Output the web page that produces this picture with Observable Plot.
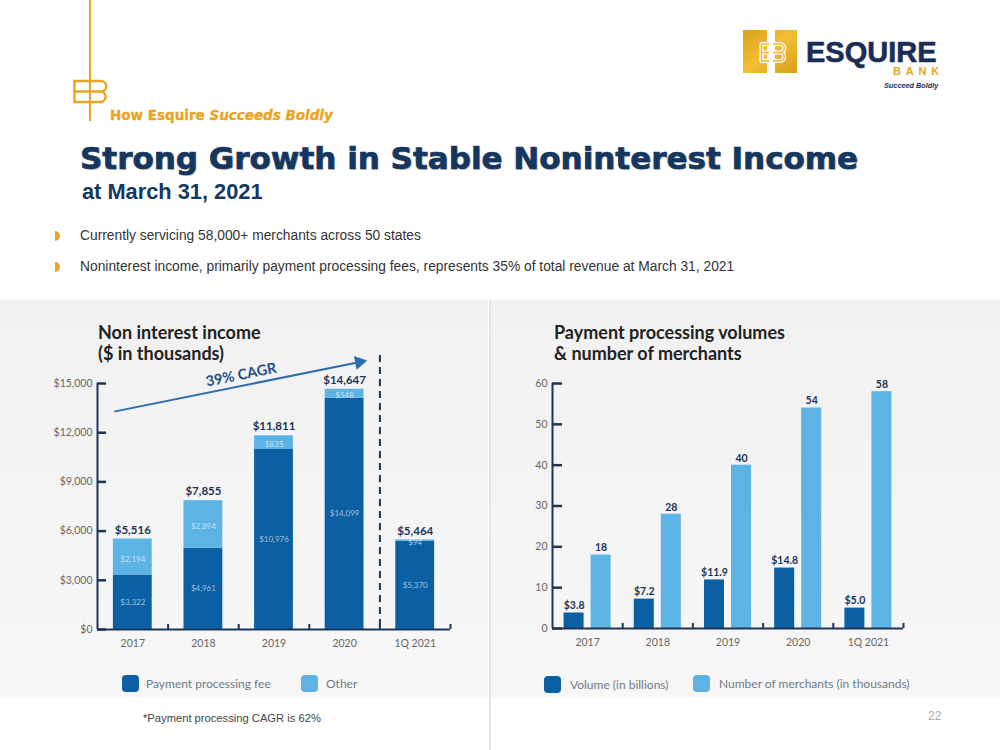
<!DOCTYPE html>
<html>
<head>
<meta charset="utf-8">
<script src="https://cdn.jsdelivr.net/npm/d3@7"></script>
<script src="https://cdn.jsdelivr.net/npm/@observablehq/plot@0.6"></script>
<style>
  html, body { margin: 0; padding: 0; background: #fff; }
  body { width: 1000px; height: 750px; position: relative; overflow: hidden;
         font-family: "Liberation Sans", Arial, sans-serif; }
  .abs { position: absolute; white-space: nowrap; }
  .panel { background: linear-gradient(#f1f1f1, #f7f7f7); }
  .kicker { font-family: "DejaVu Sans", sans-serif; font-weight: bold; font-size: 13.5px;
            line-height: 13.5px; color: #e8a521; -webkit-text-stroke: 0.35px #e8a521; }
  .kicker i { font-style: oblique; }
  .headline { font-family: "DejaVu Sans", sans-serif; font-weight: bold; font-size: 31px;
              line-height: 31px; color: #15375f; -webkit-text-stroke: 0.7px #15375f;
              text-shadow: 1px 1px 1px rgba(0,0,0,0.22); }
  .subhead { font-weight: bold; font-size: 21.8px; line-height: 21.8px; color: #15375f; }
  .bullet-mark { width: 5px; height: 10px; border-radius: 0 5px 5px 0; background: #e8a521; }
  .bullet { font-size: 13.8px; line-height: 14px; color: #333; }
  .chart-title { font-family: Lato, sans-serif; font-weight: bold; font-size: 18px;
                 line-height: 21px; color: #222; }
  .swatch { width: 17px; height: 17px; border-radius: 4px; }
  .legend-text { font-family: Lato, sans-serif; font-size: 12px; line-height: 17px; color: #6d7a88; }
  .foot { font-size: 11.2px; line-height: 12px; color: #444; }
  .page { font-size: 12px; line-height: 12px; color: #aaa; }
</style>
</head>
<body>

<!-- grey chart panels and the divider between them -->
<div class="abs panel" style="left:0;top:300px;width:488px;height:398px"></div>
<div class="abs panel" style="left:491px;top:300px;width:509px;height:398px"></div>
<div class="abs" style="left:488.5px;top:300px;width:2px;height:450px;background:#e4e4e4"></div>

<!-- brand marks -->
<svg class="abs" style="left:0;top:0" width="1000" height="130" viewBox="0 0 1000 130">
  <!-- corner rule with the EB monogram -->
  <line x1="90" y1="0" x2="90" y2="121" stroke="#e8a521" stroke-width="2"/>
  <path d="M90,81 H74.5 V102 H90 M74.5,91.5 H90 M90,81 H101 A5.2,5.2 0 0 1 101,91.5 H90 M101,91.5 A5.3,5.3 0 0 1 101,102 H90"
        fill="none" stroke="#e8a521" stroke-width="2.4"/>
  <!-- logo tile -->
  <defs>
    <linearGradient id="gold" x1="0" y1="0" x2="1" y2="1">
      <stop offset="0" stop-color="#dba11c"/>
      <stop offset="0.5" stop-color="#f1bf36"/>
      <stop offset="1" stop-color="#d99d18"/>
    </linearGradient>
  </defs>
  <rect x="743" y="30" width="54" height="43" fill="url(#gold)"/>
  <g fill="none" stroke-linejoin="round">
    <path d="M769,44 H761.5 V61 H769 M761.5,52.5 H769 M773,44 H780 A4.2,4.2 0 0 1 780,52.5 H773 M780,52.5 A4.2,4.2 0 0 1 780,61 H773 M769,30 V73 M773,30 V73"
          stroke="#ffffff" stroke-width="4"/>
    <path d="M769,44 H761.5 V61 H769 M761.5,52.5 H769 M773,44 H780 A4.2,4.2 0 0 1 780,52.5 H773 M780,52.5 A4.2,4.2 0 0 1 780,61 H773"
          stroke="#eab42c" stroke-width="1.4"/>
  </g>
</svg>
<div class="abs" style="left:806px;top:41px;font-weight:bold;font-size:29px;line-height:22px;color:#1b2d55;-webkit-text-stroke:0.6px #1b2d55">ESQUIRE</div>
<div class="abs" style="left:893px;top:66px;font-weight:bold;font-size:11px;line-height:10px;letter-spacing:4.8px;color:#e3a823">BANK</div>
<div class="abs" style="left:884px;top:81.5px;font-weight:bold;font-style:italic;font-size:7.3px;line-height:7.3px;color:#1b2d55">Succeed Boldly</div>

<!-- heading -->
<div class="abs kicker" style="left:110px;top:108.5px">How Esquire <i>Succeeds Boldly</i></div>
<div class="abs headline" style="left:80px;top:143px">Strong Growth in Stable Noninterest Income</div>
<div class="abs subhead" style="left:82px;top:181.4px">at March 31, 2021</div>

<div class="abs bullet-mark" style="left:55px;top:231px"></div>
<div class="abs bullet" style="left:80px;top:229px">Currently servicing 58,000+ merchants across 50 states</div>
<div class="abs bullet-mark" style="left:55px;top:262px"></div>
<div class="abs bullet" style="left:80px;top:260px">Noninterest income, primarily payment processing fees, represents 35% of total revenue at March 31, 2021</div>

<!-- chart titles -->
<div class="abs chart-title" style="left:98px;top:322px">Non interest income<br>($ in thousands)</div>
<div class="abs chart-title" style="left:554px;top:322px">Payment processing volumes<br>&amp; number of merchants</div>

<div id="income" class="abs" style="left:0;top:340px"></div>
<div id="payments" class="abs" style="left:492px;top:340px"></div>

<!-- legends -->
<div class="abs swatch" style="left:121.5px;top:675px;background:#0b5fa3"></div>
<div class="abs legend-text" style="left:146px;top:675px">Payment processing fee</div>
<div class="abs swatch" style="left:301px;top:675px;background:#5db3e4"></div>
<div class="abs legend-text" style="left:326px;top:675px">Other</div>

<div class="abs swatch" style="left:544px;top:675.5px;background:#0b5fa3"></div>
<div class="abs legend-text" style="left:570px;top:675.5px">Volume (in billions)</div>
<div class="abs swatch" style="left:693px;top:675px;background:#5db3e4"></div>
<div class="abs legend-text" style="left:719px;top:675px">Number of merchants (in thousands)</div>

<div class="abs foot" style="left:143px;top:712px">*Payment processing CAGR is 62%</div>
<div class="abs page" style="left:928px;top:710px">22</div>

<script>
// ---- data ----
const categories = ["2017", "2018", "2019", "2020", "1Q 2021"];
const paymentFees = [3322, 4961, 10976, 14099, 5370];   // $ thousands
const otherIncome = [2194, 2894, 835, 548, 94];          // $ thousands
const incomeTicks = [0, 3000, 6000, 9000, 12000, 15000];
const cagrText = "39% CAGR";

const volumes = [3.8, 7.2, 11.9, 14.8, 5.0];             // $ billions
const merchants = [18, 28, 40, 54, 58];                  // thousands
const countTicks = [0, 10, 20, 30, 40, 50, 60];

// ---- styling ----
const navy = "#1d3557";
const feeBlue = "#0b5fa3";
const otherBlue = "#5db3e4";
const tickGray = "#666666";
const money = d3.format("$,");
const chartStyle = {background: "transparent", fontFamily: "Lato, sans-serif", fontSize: "10.5px", overflow: "visible"};

// each category occupies one unit of x; the boundaries get small upward ticks
const slotCenters = categories.map((c, i) => i + 0.5);
const slotEdges = categories.map((c, i) => i + 1);
const slotLabel = v => categories[Math.floor(v)];

// ---- Non interest income (stacked) ----
const incomeRows = categories.map((c, i) => ({
  i, fee: paymentFees[i], other: otherIncome[i], total: paymentFees[i] + otherIncome[i]
}));
const STACK_W = 0.55;
const L = {width: 488, height: 320, marginLeft: 97, marginRight: 38, marginTop: 43, marginBottom: 31};
const yMaxIncome = 15000;

// trend arrow across the annual bars, in (slot, $) units
const trendFrom = {x: 0.25, y: 13300};
const trendTo = {x: 3.82, y: 16400};
const pxX = (L.width - L.marginLeft - L.marginRight) / categories.length;
const pxY = (L.height - L.marginTop - L.marginBottom) / yMaxIncome;
const runPx = (trendTo.x - trendFrom.x) * pxX;
const risePx = (trendTo.y - trendFrom.y) * pxY;
const trendDeg = Math.atan2(risePx, runPx) * 180 / Math.PI;
const headR = 5.2;
const headBack = 2 * Math.sqrt(Math.PI * headR * headR / (3 * Math.sqrt(3)));
const ux = Math.cos(trendDeg * Math.PI / 180), uy = Math.sin(trendDeg * Math.PI / 180);
const trendMid = {x: (trendFrom.x + trendTo.x) / 2, y: (trendFrom.y + trendTo.y) / 2};

const income = Plot.plot({
  ...L,
  style: chartStyle,
  x: {domain: [0, categories.length], axis: null},
  y: {domain: [0, yMaxIncome], axis: null, label: null},
  marks: [
    Plot.rect(incomeRows, {x1: d => d.i + (1 - STACK_W) / 2, x2: d => d.i + (1 + STACK_W) / 2, y1: 0, y2: "fee", fill: feeBlue}),
    Plot.rect(incomeRows, {x1: d => d.i + (1 - STACK_W) / 2, x2: d => d.i + (1 + STACK_W) / 2, y1: "fee", y2: "total", fill: otherBlue}),
    Plot.text(incomeRows, {x: d => d.i + 0.5, y: d => d.fee / 2, text: d => money(d.fee), fill: "#ffffff", fillOpacity: 0.6, fontSize: 8}),
    Plot.text(incomeRows, {x: d => d.i + 0.5, y: d => d.fee + d.other / 2, text: d => money(d.other), fill: "#ffffff", fillOpacity: 0.65, fontSize: 8, dy: 2}),
    Plot.text(incomeRows, {x: d => d.i + 0.5, y: "total", text: d => money(d.total), dy: -9, fontSize: 11.5, fontWeight: "bold", fill: navy}),
    // annual vs. quarterly separator
    Plot.ruleX([4], {stroke: navy, strokeWidth: 2, strokeDasharray: "7,5", insetTop: -28}),
    // trend arrow and label
    Plot.arrow([{}], {x1: trendFrom.x, y1: trendFrom.y, x2: trendTo.x, y2: trendTo.y, stroke: "#2a6db0", strokeWidth: 2, headLength: 0, insetEnd: 6}),
    Plot.dot([{}], {x: trendTo.x, y: trendTo.y, dx: -headBack * ux, dy: headBack * uy, symbol: "triangle", r: headR, rotate: 90 - trendDeg, fill: "#2a6db0", stroke: "none"}),
    Plot.text([{}], {x: trendMid.x, y: trendMid.y, dy: -11, rotate: -trendDeg, text: [cagrText], fontSize: 14.5, fontWeight: "bold", fill: "#1f4e85"}),
    // axes
    Plot.ruleX([0], {stroke: navy, strokeWidth: 2}),
    Plot.ruleY([0], {stroke: navy, strokeWidth: 2}),
    Plot.axisY(incomeTicks, {tickSize: -9, tickPadding: 14, tickFormat: money, stroke: navy, strokeWidth: 2.5, fill: tickGray, fontSize: 10.5, label: null}),
    Plot.axisX(slotCenters, {tickSize: 0, tickPadding: 10, tickFormat: slotLabel, fill: tickGray, fontSize: 10.5, label: null}),
    Plot.axisX(slotEdges, {tickSize: -5, stroke: navy, strokeWidth: 2, fill: "none", label: null})
  ]
});
document.getElementById("income").append(income);

// ---- Payment processing volumes & merchants (grouped) ----
const paymentRows = categories.map((c, i) => ({i, volume: volumes[i], merchants: merchants[i]}));
const PAIR_W = 0.285, PAIR_GAP = 0.1;

const payments = Plot.plot({
  width: 508, height: 320, marginLeft: 60, marginRight: 97, marginTop: 43, marginBottom: 32,
  style: chartStyle,
  x: {domain: [0, categories.length], axis: null},
  y: {domain: [0, 60], axis: null, label: null},
  marks: [
    Plot.rect(paymentRows, {x1: d => d.i + 0.5 - PAIR_GAP / 2 - PAIR_W, x2: d => d.i + 0.5 - PAIR_GAP / 2, y1: 0, y2: "volume", fill: feeBlue}),
    Plot.rect(paymentRows, {x1: d => d.i + 0.5 + PAIR_GAP / 2, x2: d => d.i + 0.5 + PAIR_GAP / 2 + PAIR_W, y1: 0, y2: "merchants", fill: otherBlue}),
    Plot.text(paymentRows, {x: d => d.i + 0.5 - PAIR_GAP / 2 - PAIR_W / 2, y: "volume", text: d => "$" + d3.format(".1f")(d.volume), dy: -7, fontSize: 10.5, fontWeight: "bold", fill: navy}),
    Plot.text(paymentRows, {x: d => d.i + 0.5 + PAIR_GAP / 2 + PAIR_W / 2, y: "merchants", text: d => String(d.merchants), dy: -7, fontSize: 10.5, fontWeight: "bold", fill: navy}),
    Plot.ruleX([0], {stroke: navy, strokeWidth: 2}),
    Plot.ruleY([0], {stroke: navy, strokeWidth: 2}),
    Plot.axisY(countTicks, {tickSize: -10, tickPadding: 15, stroke: navy, strokeWidth: 2.5, fill: tickGray, fontSize: 10.5, label: null}),
    Plot.axisX(slotCenters, {tickSize: 0, tickPadding: 10, tickFormat: slotLabel, fill: tickGray, fontSize: 10.5, label: null}),
    Plot.axisX(slotEdges, {tickSize: -5, stroke: navy, strokeWidth: 2, fill: "none", label: null})
  ]
});
document.getElementById("payments").append(payments);
</script>
</body>
</html>
